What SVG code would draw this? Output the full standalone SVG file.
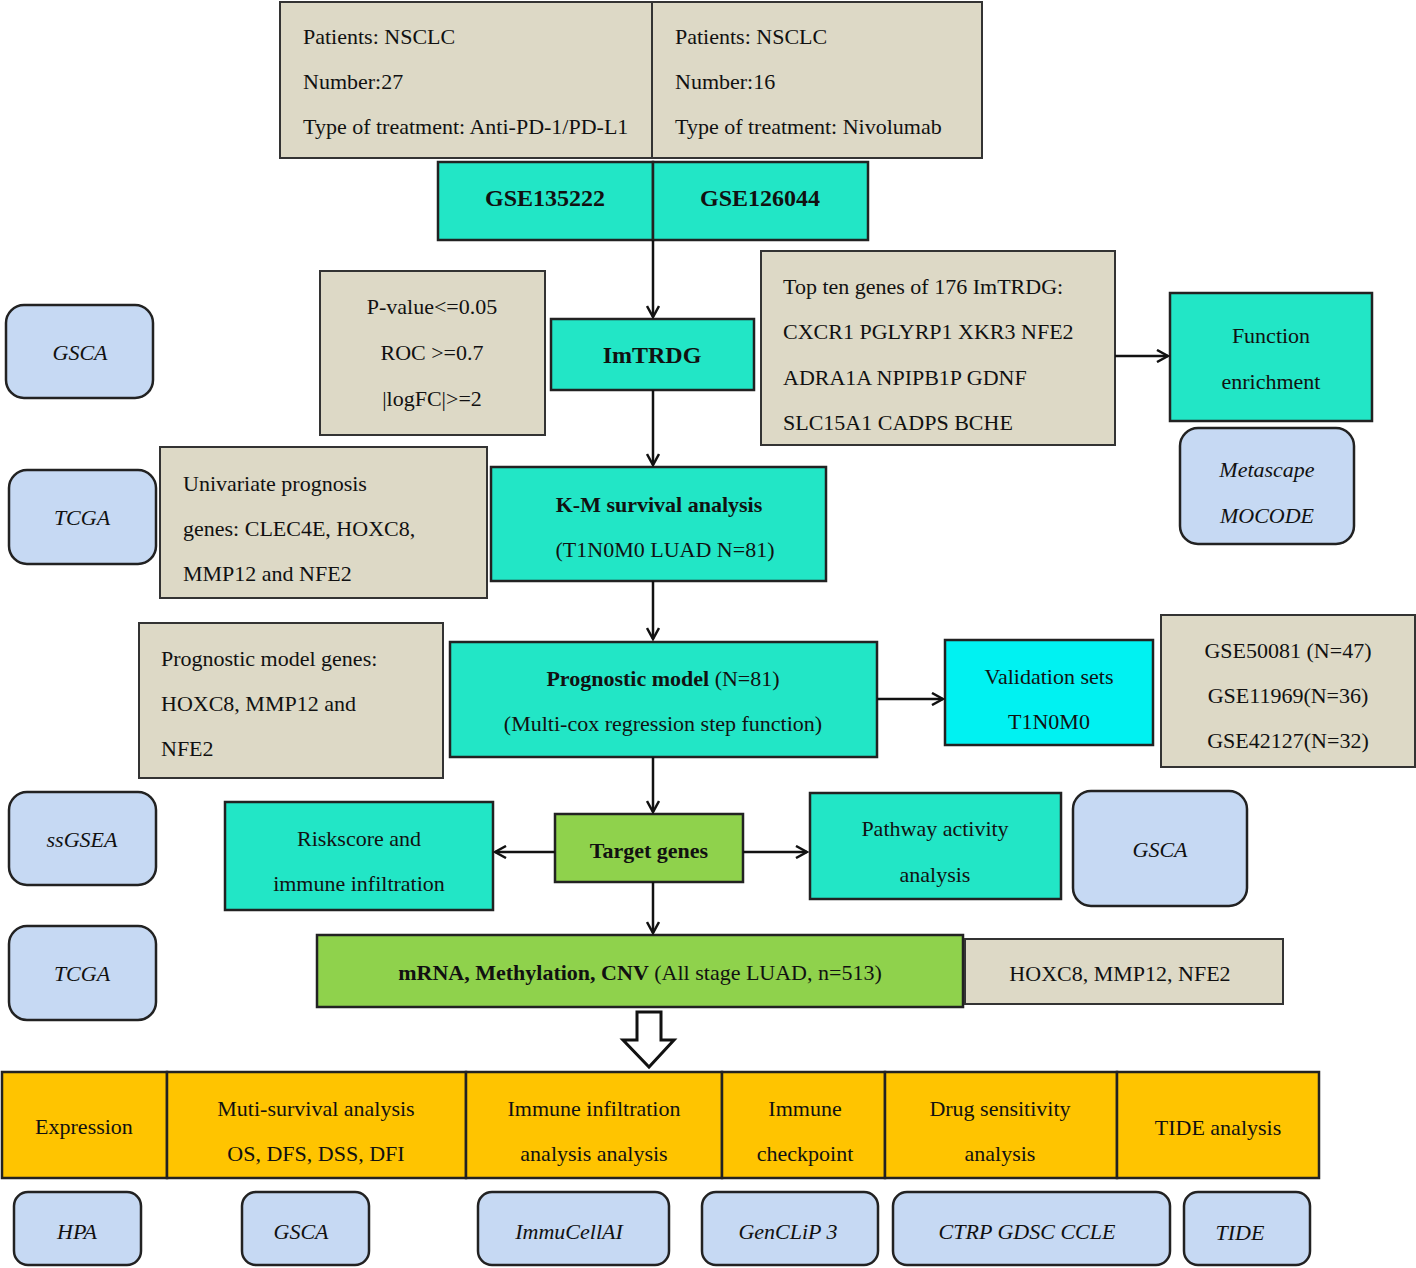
<svg xmlns="http://www.w3.org/2000/svg" width="1416" height="1268" viewBox="0 0 1416 1268">
<style>
text{font-family:"Liberation Serif","Times New Roman",serif;font-size:22px;fill:#111}
.c{text-anchor:middle}
.b{font-weight:bold}
.i{font-style:italic}
.bg{fill:#DDD9C6;stroke:#333;stroke-width:2}
.tl{fill:#22E6C6;stroke:#222;stroke-width:2.5}
.cy{fill:#00F2F2;stroke:#222;stroke-width:2.5}
.gr{fill:#8FD24C;stroke:#222;stroke-width:2.5}
.or{fill:#FFC400;stroke:#222;stroke-width:2.5}
.bl{fill:#C6D9F3;stroke:#222;stroke-width:2.5}
.ln{stroke:#111;stroke-width:2.5;fill:none}
</style>
<defs><marker id="ar" viewBox="0 0 14 14" refX="12" refY="7" markerWidth="14" markerHeight="14" markerUnits="userSpaceOnUse" orient="auto"><path d="M1,1 L12,7 L1,13" fill="none" stroke="#111" stroke-width="2.5"/></marker></defs>
<g id="ds1"><rect class="bg" x="280" y="2" width="372" height="156"/><text x="303" y="44">Patients: NSCLC</text><text x="303" y="89">Number:27</text><text x="303" y="134">Type of treatment: Anti-PD-1/PD-L1</text></g>
<g id="ds2"><rect class="bg" x="652" y="2" width="330" height="156"/><text x="675" y="44">Patients: NSCLC</text><text x="675" y="89">Number:16</text><text x="675" y="134">Type of treatment: Nivolumab</text></g>
<g id="gse1"><rect class="tl" x="438" y="162" width="215" height="78"/><text class="c b" x="545" y="206" style="font-size:24px">GSE135222</text></g>
<g id="gse2"><rect class="tl" x="653" y="162" width="215" height="78"/><text class="c b" x="760" y="206" style="font-size:24px">GSE126044</text></g>
<g id="imtrdg"><rect class="tl" x="551" y="319" width="203" height="71"/><text class="c b" x="652" y="363" style="font-size:24px">ImTRDG</text></g>
<g id="pval"><rect class="bg" x="320" y="271" width="225" height="164"/><text class="c" x="432" y="314">P-value&lt;=0.05</text><text class="c" x="432" y="360">ROC &gt;=0.7</text><text class="c" x="432" y="406">|logFC|&gt;=2</text></g>
<g id="topten"><rect class="bg" x="761" y="251" width="354" height="194"/><text x="783" y="294">Top ten genes of 176 ImTRDG:</text><text x="783" y="339">CXCR1 PGLYRP1 XKR3 NFE2</text><text x="783" y="385">ADRA1A NPIPB1P GDNF</text><text x="783" y="430">SLC15A1 CADPS BCHE</text></g>
<g id="func"><rect class="tl" x="1170" y="293" width="202" height="128"/><text class="c" x="1271" y="343">Function</text><text class="c" x="1271" y="389">enrichment</text></g>
<g id="meta"><rect class="bl" x="1180" y="428" width="174" height="116" rx="18"/><text class="c i" x="1267" y="477">Metascape</text><text class="c i" x="1267" y="523">MOCODE</text></g>
<g id="gsca1"><rect class="bl" x="6" y="305" width="147" height="93" rx="18"/><text class="c i" x="80" y="360">GSCA</text></g>
<g id="tcga1"><rect class="bl" x="9" y="470" width="147" height="94" rx="18"/><text class="c i" x="82" y="525">TCGA</text></g>
<g id="univ"><rect class="bg" x="160" y="447" width="327" height="151"/><text x="183" y="491">Univariate prognosis</text><text x="183" y="536">genes: CLEC4E, HOXC8,</text><text x="183" y="581">MMP12 and NFE2</text></g>
<g id="km"><rect class="tl" x="491" y="467" width="335" height="114"/><text class="c b" x="659" y="512">K-M survival analysis</text><text class="c" x="665" y="557">(T1N0M0 LUAD N=81)</text></g>
<g id="pmg"><rect class="bg" x="139" y="623" width="304" height="155"/><text x="161" y="666">Prognostic model genes:</text><text x="161" y="711">HOXC8, MMP12 and</text><text x="161" y="756">NFE2</text></g>
<g id="pm"><rect class="tl" x="450" y="642" width="427" height="115"/><text class="c" x="663" y="686"><tspan class="b">Prognostic model</tspan> (N=81)</text><text class="c" x="663" y="731">(Multi-cox regression step function)</text></g>
<g id="val"><rect class="cy" x="945" y="640" width="208" height="105"/><text class="c" x="1049" y="684">Validation sets</text><text class="c" x="1049" y="729">T1N0M0</text></g>
<g id="gsev"><rect class="bg" x="1161" y="615" width="254" height="152"/><text class="c" x="1288" y="658">GSE50081 (N=47)</text><text class="c" x="1288" y="703">GSE11969(N=36)</text><text class="c" x="1288" y="748">GSE42127(N=32)</text></g>
<g id="ssgsea"><rect class="bl" x="9" y="792" width="147" height="93" rx="18"/><text class="c i" x="82" y="847">ssGSEA</text></g>
<g id="target"><rect class="gr" x="555" y="814" width="188" height="68"/><text class="c b" x="649" y="858">Target genes</text></g>
<g id="risk"><rect class="tl" x="225" y="802" width="268" height="108"/><text class="c" x="359" y="846">Riskscore and</text><text class="c" x="359" y="891">immune infiltration</text></g>
<g id="path"><rect class="tl" x="810" y="793" width="251" height="106"/><text class="c" x="935" y="836">Pathway activity</text><text class="c" x="935" y="882">analysis</text></g>
<g id="gsca2"><rect class="bl" x="1073" y="791" width="174" height="115" rx="18"/><text class="c i" x="1160" y="857">GSCA</text></g>
<g id="tcga2"><rect class="bl" x="9" y="926" width="147" height="94" rx="18"/><text class="c i" x="82" y="981">TCGA</text></g>
<g id="mrna"><rect class="gr" x="317" y="935" width="646" height="72"/><text class="c" x="640" y="980"><tspan class="b">mRNA, Methylation, CNV</tspan> (All stage LUAD, n=513)</text></g>
<g id="hox"><rect class="bg" x="965" y="939" width="318" height="65"/><text class="c" x="1120" y="981">HOXC8, MMP12, NFE2</text></g>
<g id="orange">
<rect class="or" x="2" y="1072" width="165" height="106"/><text class="c" x="84" y="1134">Expression</text>
<rect class="or" x="167" y="1072" width="299" height="106"/><text class="c" x="316" y="1116">Muti-survival analysis</text><text class="c" x="316" y="1161">OS, DFS, DSS, DFI</text>
<rect class="or" x="466" y="1072" width="256" height="106"/><text class="c" x="594" y="1116">Immune infiltration</text><text class="c" x="594" y="1161">analysis analysis</text>
<rect class="or" x="722" y="1072" width="163" height="106"/><text class="c" x="805" y="1116">Immune</text><text class="c" x="805" y="1161">checkpoint</text>
<rect class="or" x="885" y="1072" width="232" height="106"/><text class="c" x="1000" y="1116">Drug sensitivity</text><text class="c" x="1000" y="1161">analysis</text>
<rect class="or" x="1117" y="1072" width="202" height="106"/><text class="c" x="1218" y="1135">TIDE analysis</text>
</g>
<g id="tools">
<rect class="bl" x="14" y="1192" width="127" height="73" rx="14"/><text class="c i" x="77" y="1239">HPA</text>
<rect class="bl" x="242" y="1192" width="127" height="73" rx="14"/><text class="c i" x="301" y="1239">GSCA</text>
<rect class="bl" x="478" y="1192" width="191" height="73" rx="14"/><text class="c i" x="569" y="1239">ImmuCellAI</text>
<rect class="bl" x="702" y="1192" width="176" height="73" rx="14"/><text class="c i" x="788" y="1239">GenCLiP 3</text>
<rect class="bl" x="893" y="1192" width="277" height="73" rx="14"/><text class="c i" x="1027" y="1239">CTRP GDSC CCLE</text>
<rect class="bl" x="1184" y="1192" width="126" height="73" rx="14"/><text class="c i" x="1240" y="1240">TIDE</text>
</g>
<g id="connectors">
<line class="ln" x1="653" y1="240" x2="653" y2="317" marker-end="url(#ar)"/>
<line class="ln" x1="653" y1="390" x2="653" y2="465" marker-end="url(#ar)"/>
<line class="ln" x1="653" y1="581" x2="653" y2="639" marker-end="url(#ar)"/>
<line class="ln" x1="653" y1="757" x2="653" y2="812" marker-end="url(#ar)"/>
<line class="ln" x1="653" y1="882" x2="653" y2="933" marker-end="url(#ar)"/>
<line class="ln" x1="1115" y1="356" x2="1168" y2="356" marker-end="url(#ar)"/>
<line class="ln" x1="877" y1="699" x2="943" y2="699" marker-end="url(#ar)"/>
<line class="ln" x1="555" y1="852" x2="495" y2="852" marker-end="url(#ar)"/>
<line class="ln" x1="743" y1="852" x2="807" y2="852" marker-end="url(#ar)"/>
<path d="M637,1012 H661 V1040 H674 L649,1067 L623,1040 H637 Z" fill="#fff" stroke="#111" stroke-width="3"/>
</g>
</svg>
